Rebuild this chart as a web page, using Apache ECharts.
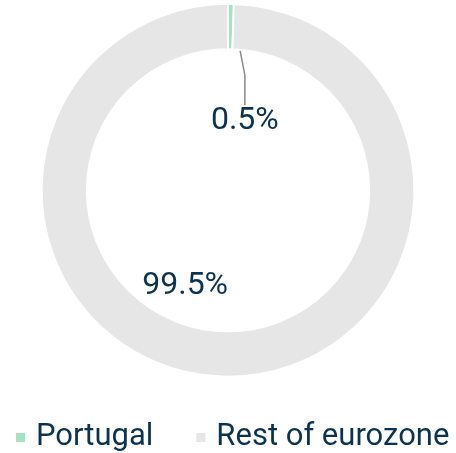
<!DOCTYPE html>
<html>
<head>
<meta charset="utf-8">
<script src="https://cdn.jsdelivr.net/npm/echarts@6/dist/echarts.min.js"></script>
<style>
  html, body { margin: 0; padding: 0; background: #fff; }
  #container { width: 456px; height: 453px; }
</style>
</head>
<body>
<div id="container"></div>
<script type="text/javascript">
    var names = ['Portugal', 'Rest of eurozone'];
    var values = [0.5, 99.5];
    var colors = ['#a3e3c3', '#e6e6e6'];
    // label spots inside the hole (percent of chart box)
    var labelX = ['53.7%', '40.6%'];
    var labelY = ['26.7%', '63.2%'];

    var dom = document.getElementById('container');
    var myChart = echarts.init(dom, null, { renderer: 'canvas' });

    var data = [];
    for (var i = 0; i < names.length; i++) {
        data.push({
            name: names[i],
            value: values[i],
            itemStyle: { color: colors[i] },
            labelLine: { show: i === 0 }
        });
    }

    var option = {
        animation: false,
        textStyle: { fontFamily: 'Roboto' },
        legend: {
            bottom: 0,
            left: 14,
            width: 600,
            padding: 0,
            icon: 'rect',
            itemWidth: 11,
            itemHeight: 11,
            itemGap: 41,
            textStyle: { fontSize: 31, color: '#0d3353', padding: [0, 0, 0, 5] },
            data: names
        },
        series: [{
            type: 'pie',
            center: ['50%', '42%'],
            radius: ['62.3%', '82.3%'],
            startAngle: 90,
            clockwise: true,
            avoidLabelOverlap: false,
            itemStyle: { borderColor: '#fff', borderWidth: 2 },
            emphasis: { disabled: true },
            label: {
                show: true,
                formatter: '{d}%',
                fontSize: 32,
                color: '#0d3353'
            },
            labelLine: {
                lineStyle: { color: '#8a8a8a', width: 1.5 }
            },
            labelLayout: function (params) {
                return {
                    x: labelX[params.dataIndex],
                    y: labelY[params.dataIndex],
                    align: 'center',
                    verticalAlign: 'middle'
                };
            },
            data: data
        }]
    };

    if (option && typeof option === 'object') {
        myChart.setOption(option);
    }
</script>
</body>
</html>
